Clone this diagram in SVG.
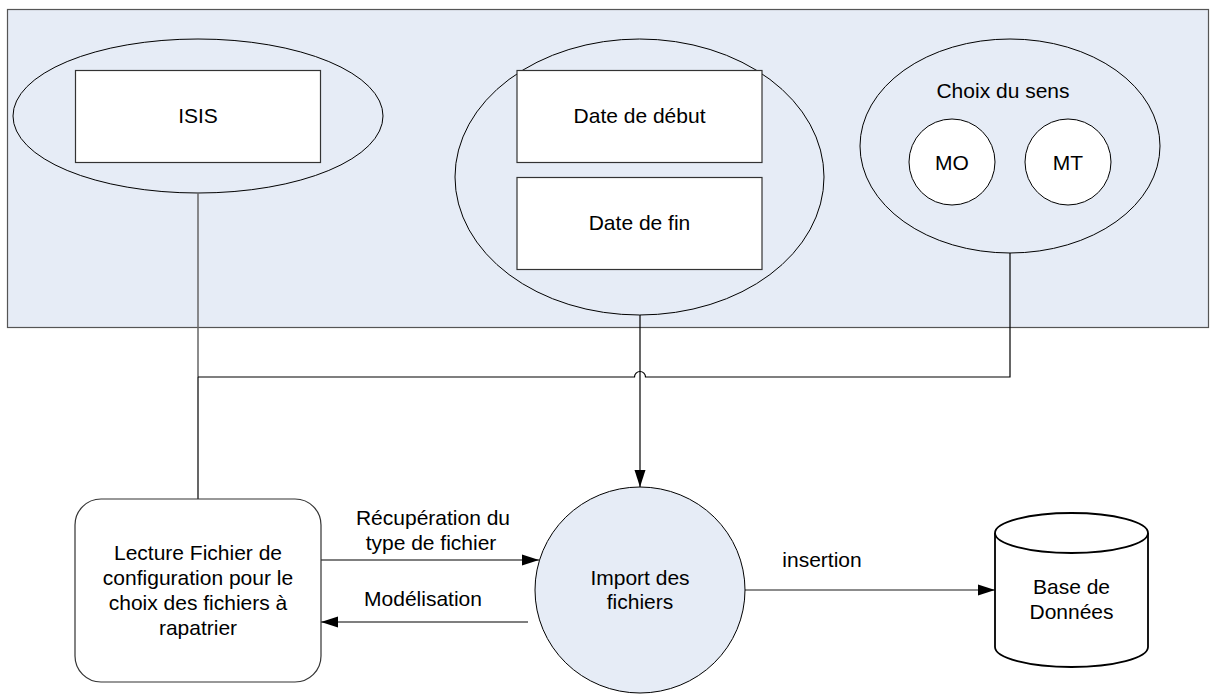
<svg xmlns="http://www.w3.org/2000/svg" width="1210" height="695" viewBox="0 0 1210 695">
<style>
text{font-family:"Liberation Sans",Arial,sans-serif;font-size:21px;fill:#000;text-anchor:middle}
.box{fill:#fff;stroke:#333;stroke-width:1.2}
.ell{fill:none;stroke:#000;stroke-width:1}
.ln{fill:none;stroke:#000;stroke-width:1.2}
.gl{fill:none;stroke:#666;stroke-width:1.5}
</style>
<defs>
<marker id="ah" markerWidth="17" markerHeight="12" refX="17" refY="6" orient="auto" markerUnits="userSpaceOnUse">
<path d="M0,0.5 L17,6 L0,11.5 Z" fill="#000"/>
</marker>
</defs>
<rect id="panel" x="7.5" y="9.5" width="1201" height="318" fill="#e6ecf6" stroke="#555" stroke-width="1.2"/>
<g id="isis-group">
<ellipse class="ell" cx="198" cy="116" rx="185" ry="77"/>
</g>
<g id="isis">
<rect class="box" x="75.5" y="70.5" width="245" height="92"/>
<text x="198" y="123">ISIS</text>
</g>
<g id="dates-group">
<ellipse class="ell" cx="639.5" cy="177" rx="184.5" ry="138"/>
</g>
<g id="date-debut">
<rect class="box" x="517" y="70.5" width="245" height="92"/>
<text x="639.5" y="122.5">Date de début</text>
</g>
<g id="date-fin">
<rect class="box" x="517" y="177.5" width="245" height="92"/>
<text x="639.5" y="230">Date de fin</text>
</g>
<g id="choix-sens">
<ellipse class="ell" cx="1010" cy="146" rx="150" ry="107"/>
<text x="1003" y="97.5">Choix du sens</text>
</g>
<g id="mo">
<circle cx="952" cy="162" r="43" fill="#fff" stroke="#000" stroke-width="1"/>
<text x="952" y="169.5">MO</text>
</g>
<g id="mt">
<circle cx="1068" cy="162" r="43" fill="#fff" stroke="#000" stroke-width="1"/>
<text x="1068" y="169.5">MT</text>
</g>
<g id="connectors">
<path class="gl" d="M198,193 V377"/>
<path class="ln" d="M198,377 V499"/>
<path class="ln" d="M1010,253 V377 H645.5 A5.5,5.5 0 0 0 634.5,377 H198"/>
<path class="ln" d="M640,315 V487" marker-end="url(#ah)"/>
<path class="ln" d="M321,560 H539" marker-end="url(#ah)"/>
<path class="ln" d="M528,622 H321" marker-end="url(#ah)"/>
<path class="gl" d="M745,590 H995" marker-end="url(#ah)"/>
<text x="433" y="525">Récupération du</text>
<text x="431" y="549.5">type de fichier</text>
<text x="423" y="606">Modélisation</text>
<text x="822" y="567">insertion</text>
</g>
<g id="lecture">
<rect x="75" y="499" width="246" height="183" rx="26" ry="26" fill="#fff" stroke="#333" stroke-width="1.2"/>
<text x="198" y="559.5">Lecture Fichier de</text>
<text x="198" y="584.5">configuration pour le</text>
<text x="198" y="609.5">choix des fichiers à</text>
<text x="198" y="635">rapatrier</text>
</g>
<g id="import">
<ellipse cx="640" cy="590" rx="105" ry="103" fill="#e6ecf6" stroke="#000" stroke-width="1"/>
<text x="640" y="585">Import des</text>
<text x="640" y="609">fichiers</text>
</g>
<g id="database">
<path d="M995,533 V647 A76.5,20 0 0 0 1148,647 V533" fill="#fff" stroke="#000" stroke-width="1.8"/>
<ellipse cx="1071.5" cy="533" rx="76.5" ry="20" fill="#fff" stroke="#000" stroke-width="1.8"/>
<text x="1071.5" y="594">Base de</text>
<text x="1071.5" y="619">Données</text>
</g>
</svg>
